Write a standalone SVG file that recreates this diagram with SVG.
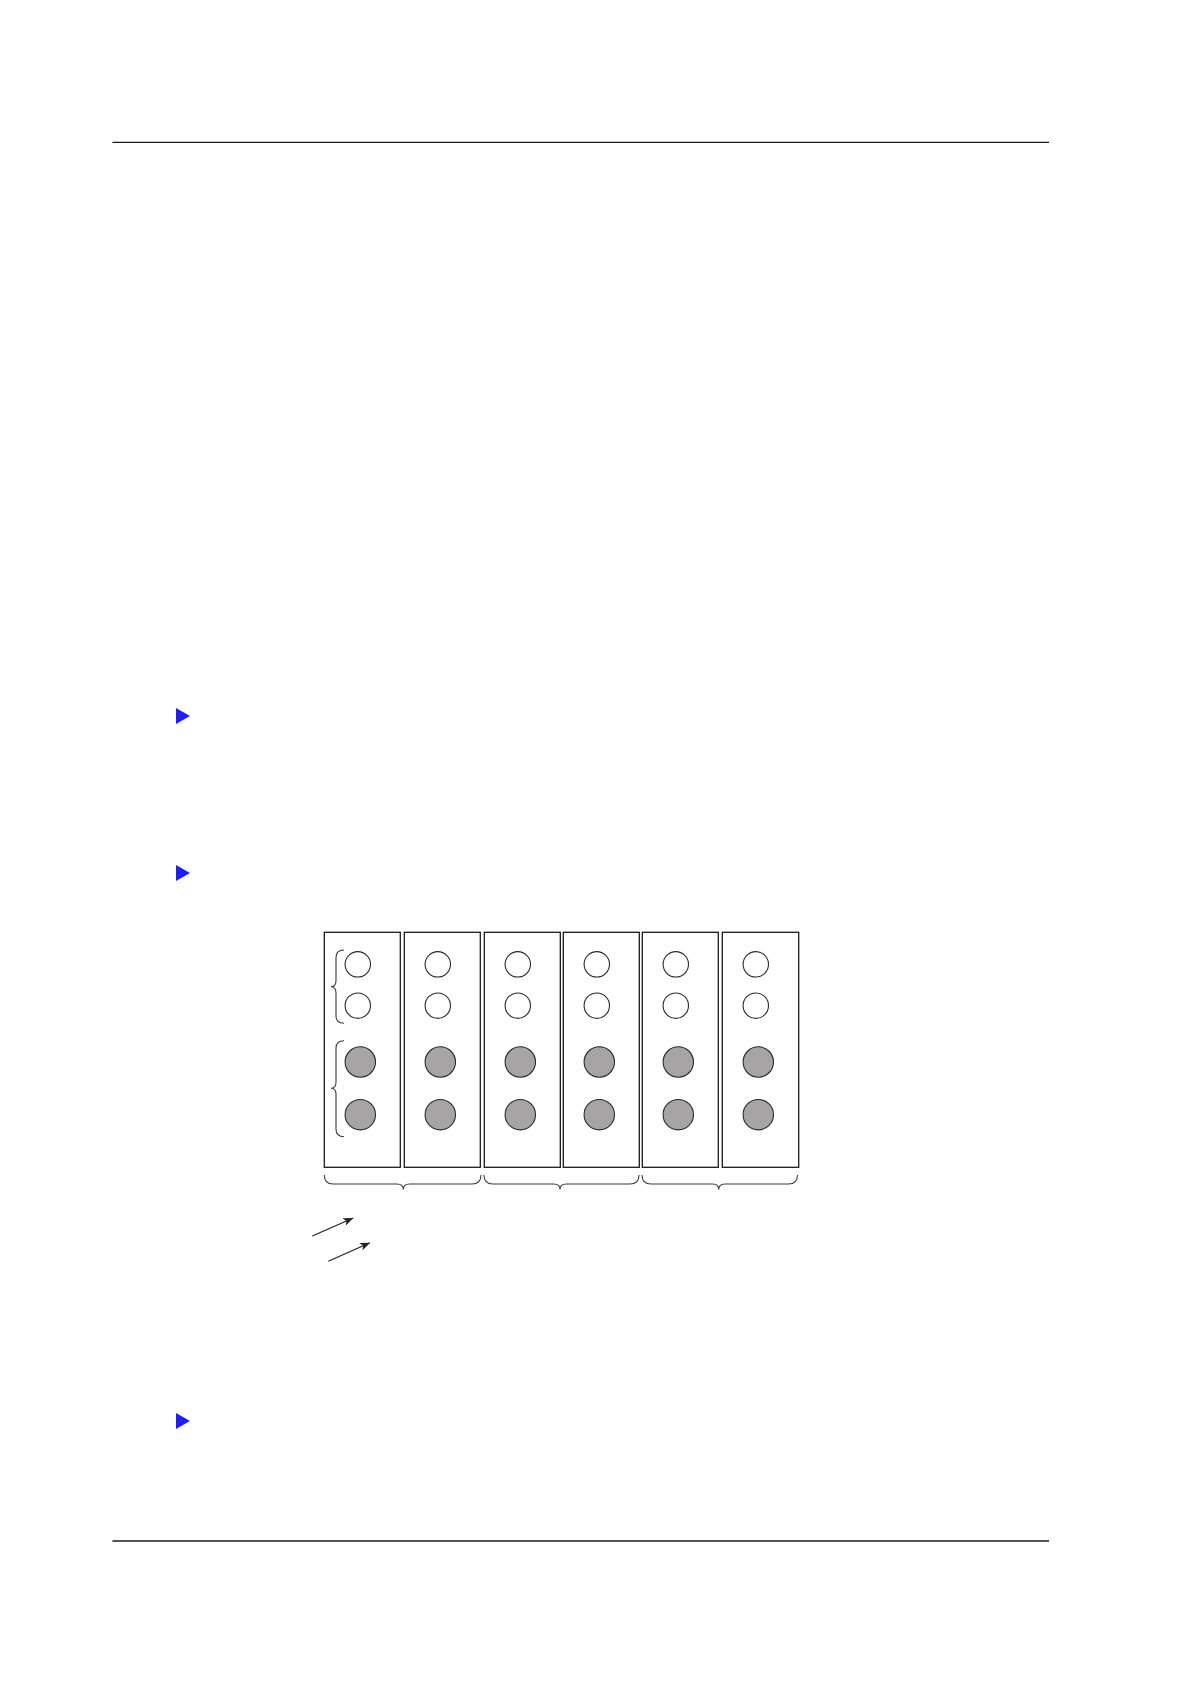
<svg xmlns="http://www.w3.org/2000/svg" width="1191" height="1684" viewBox="0 0 1191 1684">
<defs>
<style>
.rule{stroke:#1a1a1a;stroke-width:1.3;fill:none}
.mod{fill:#fff;stroke:#1a1a1a;stroke-width:1.3}
.led{fill:#fff;stroke:#2a2a2a;stroke-width:1.1}
.ledf{fill:#a6a4a5;stroke:#2a2a2a;stroke-width:1.1}
.brace{fill:none;stroke:#3a3a3a;stroke-width:1.1}
.bullet{fill:#1f1ff5}
.arr{stroke:#222;stroke-width:1.2;fill:none}
</style>
<marker id="ah" viewBox="0 0 10 8" refX="10" refY="4" markerWidth="10" markerHeight="8" markerUnits="userSpaceOnUse" orient="auto">
<path d="M0,0 L10,4 L0,8 L2.5,4 Z" fill="#222"/>
</marker>
</defs>
<rect width="1191" height="1684" fill="#fff"/>
<line class="rule" x1="112.5" y1="142.3" x2="1049" y2="142.3"/>
<line class="rule" x1="112.5" y1="1541" x2="1049" y2="1541"/>
<g id="bullets">
<polygon class="bullet" points="176,708 176,724 190,716"/>
<polygon class="bullet" points="176,865 176,881 190,873"/>
<polygon class="bullet" points="176,1413 176,1429 190,1421"/>
</g>
<g id="module1">
<rect class="mod" x="324.3" y="932.3" width="76" height="235"/>
<circle class="led" cx="357.8" cy="964.3" r="12.7"/>
<circle class="led" cx="357.8" cy="1005.7" r="12.7"/>
<circle class="ledf" cx="360.3" cy="1062" r="15.2"/>
<circle class="ledf" cx="360.3" cy="1114.7" r="15.2"/>
<path class="brace" d="M344,950 Q336,950 336,957.5 L336,980.5 Q336,986.7 331,986.7 Q336,986.7 336,993 L336,1016 Q336,1023.3 344,1023.3"/>
<path class="brace" d="M344,1040.7 Q336,1040.7 336,1048 L336,1082 Q336,1088.3 331,1088.3 Q336,1088.3 336,1094.5 L336,1129 Q336,1136.7 344,1136.7"/>
</g>
<g id="module2">
<rect class="mod" x="404.3" y="932.3" width="76" height="235"/>
<circle class="led" cx="437.8" cy="964.3" r="12.7"/>
<circle class="led" cx="437.8" cy="1005.7" r="12.7"/>
<circle class="ledf" cx="440.3" cy="1062" r="15.2"/>
<circle class="ledf" cx="440.3" cy="1114.7" r="15.2"/>
</g>
<g id="module3">
<rect class="mod" x="484.3" y="932.3" width="76" height="235"/>
<circle class="led" cx="517.8" cy="964.3" r="12.7"/>
<circle class="led" cx="517.8" cy="1005.7" r="12.7"/>
<circle class="ledf" cx="520.3" cy="1062" r="15.2"/>
<circle class="ledf" cx="520.3" cy="1114.7" r="15.2"/>
</g>
<g id="module4">
<rect class="mod" x="563.3" y="932.3" width="76" height="235"/>
<circle class="led" cx="596.8" cy="964.3" r="12.7"/>
<circle class="led" cx="596.8" cy="1005.7" r="12.7"/>
<circle class="ledf" cx="599.3" cy="1062" r="15.2"/>
<circle class="ledf" cx="599.3" cy="1114.7" r="15.2"/>
</g>
<g id="module5">
<rect class="mod" x="642.3" y="932.3" width="76" height="235"/>
<circle class="led" cx="675.8" cy="964.3" r="12.7"/>
<circle class="led" cx="675.8" cy="1005.7" r="12.7"/>
<circle class="ledf" cx="678.3" cy="1062" r="15.2"/>
<circle class="ledf" cx="678.3" cy="1114.7" r="15.2"/>
</g>
<g id="module6">
<rect class="mod" x="722.3" y="932.3" width="76.4" height="235"/>
<circle class="led" cx="755.8" cy="964.3" r="12.7"/>
<circle class="led" cx="755.8" cy="1005.7" r="12.7"/>
<circle class="ledf" cx="758.3" cy="1062" r="15.2"/>
<circle class="ledf" cx="758.3" cy="1114.7" r="15.2"/>
</g>
<g id="group-braces">
<path class="brace" d="M324.3,1175 Q324.3,1184 333,1184 L397,1184 Q403.3,1184 403.3,1189.5 Q403.3,1184 409.6,1184 L472,1184 Q481,1184 481,1175"/>
<path class="brace" d="M484,1175 Q484,1184 493,1184 L553.5,1184 Q560,1184 560,1189.5 Q560,1184 566.5,1184 L630,1184 Q639,1184 639,1175"/>
<path class="brace" d="M642,1175 Q642,1184 651,1184 L712.5,1184 Q718.7,1184 718.7,1189.5 Q718.7,1184 725,1184 L788.5,1184 Q797.5,1184 797.5,1175"/>
</g>
<g id="connectors">
<line class="arr" x1="312.3" y1="1236" x2="353.3" y2="1218" marker-end="url(#ah)"/>
<line class="arr" x1="328.3" y1="1261.3" x2="370" y2="1242.7" marker-end="url(#ah)"/>
</g>
</svg>
